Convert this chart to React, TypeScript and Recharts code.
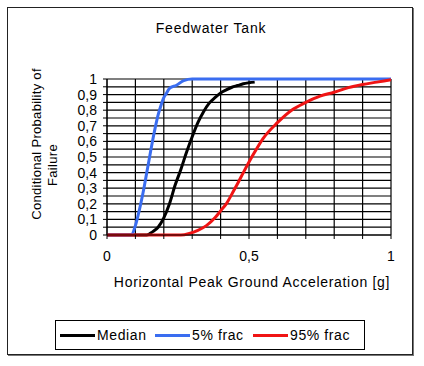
import React from 'react';
import { LineChart, Line, XAxis, YAxis, CartesianGrid } from 'recharts';

// fragility curves (acceleration in g, probability 0..1)
const medianAccel = [0, 0.14, 0.16, 0.18, 0.2, 0.22, 0.24, 0.26, 0.28, 0.3, 0.32, 0.34, 0.36, 0.38, 0.4, 0.42, 0.44, 0.46, 0.48, 0.5, 0.52];
const medianProb = [0, 0, 0.02, 0.05, 0.11, 0.2, 0.32, 0.42, 0.53, 0.63, 0.72, 0.79, 0.845, 0.88, 0.91, 0.93, 0.947, 0.958, 0.97, 0.976, 0.98];

const frac5Accel = [0, 0.085, 0.1, 0.11, 0.12, 0.13, 0.14, 0.15, 0.16, 0.17, 0.18, 0.19, 0.2, 0.21, 0.22, 0.245, 0.27, 0.3, 1];
const frac5Prob = [0, 0, 0.06, 0.13, 0.21, 0.3, 0.4, 0.5, 0.6, 0.69, 0.77, 0.83, 0.88, 0.91, 0.94, 0.96, 0.99, 1, 1];

const frac95Accel = [0, 0.26, 0.29, 0.32, 0.35, 0.38, 0.4, 0.42, 0.445, 0.46, 0.48, 0.51, 0.55, 0.6, 0.65, 0.7, 0.75, 0.8, 0.85, 0.9, 0.95, 1];
const frac95Prob = [0, 0, 0.01, 0.03, 0.06, 0.11, 0.155, 0.2, 0.28, 0.33, 0.4, 0.5, 0.62, 0.72, 0.8, 0.85, 0.89, 0.915, 0.945, 0.965, 0.98, 0.995];

const xTicks = [0, 0.1, 0.2, 0.3, 0.4, 0.5, 0.6, 0.7, 0.8, 0.9, 1];
const xLabelled = [0, 0.5, 1];
const yTicks = [0, 0.05, 0.1, 0.15, 0.2, 0.25, 0.3, 0.35, 0.4, 0.45, 0.5, 0.55, 0.6, 0.65, 0.7, 0.75, 0.8, 0.85, 0.9, 0.95, 1];
const yLabelled = [0, 0.1, 0.2, 0.3, 0.4, 0.5, 0.6, 0.7, 0.8, 0.9, 1];

const seriesNames = ['Median', '5% frac', '95% frac'];
const seriesColors = ['#000000', '#3a6df0', '#f01414'];

const toPoints = (xs: number[], ps: number[]) => xs.map((x, i) => ({ x, p: ps[i] }));

const FONT = 'Arial, "Liberation Sans", sans-serif';
const comma = (v: number) => String(v).replace('.', ',');

// legend entry x positions (swatch start), as in the reference
const legendLeft = [60, 155, 253];

export default function App() {
  const series = [
    toPoints(medianAccel, medianProb),
    toPoints(frac5Accel, frac5Prob),
    toPoints(frac95Accel, frac95Prob),
  ];

  return (
    <div style={{ position: 'absolute', left: 0, top: 0, width: 424, height: 366, background: '#fff', fontFamily: FONT, color: '#000' }}>
      {/* chart frame */}
      <div style={{ position: 'absolute', left: 7, top: 7, width: 406, height: 348, boxSizing: 'border-box', border: '1px solid #222', boxShadow: '1px 1px 0 #777' }} />

      <div style={{ position: 'absolute', left: 211, top: 28, transform: 'translate(-50%, -50%)', whiteSpace: 'nowrap', fontSize: 14, letterSpacing: 0.8 }}>
        Feedwater Tank
      </div>

      <div style={{ position: 'absolute', left: 0, top: 0 }}>
        <LineChart width={424} height={366} margin={{ top: 79, right: 33, bottom: 101, left: 0 }}>
          <CartesianGrid stroke="#000" strokeWidth={1.2} />
          <XAxis
            type="number"
            dataKey="x"
            domain={[0, 1]}
            ticks={xTicks}
            interval={0}
            height={30}
            tickSize={4}
            tickMargin={12}
            tickFormatter={(v: number) => (xLabelled.includes(v) ? comma(v) : '')}
            tick={{ fontSize: 14, fill: '#000', fontFamily: FONT }}
            axisLine={{ stroke: '#000' }}
            tickLine={{ stroke: '#000' }}
            allowDuplicatedCategory={false}
          />
          <YAxis
            type="number"
            domain={[0, 1]}
            ticks={yTicks}
            interval={0}
            width={107}
            tickSize={4}
            tickMargin={6}
            tickFormatter={(v: number) => (yLabelled.includes(v) ? comma(v) : '')}
            tick={{ fontSize: 14, fill: '#000', fontFamily: FONT }}
            axisLine={{ stroke: '#000' }}
            tickLine={{ stroke: '#000' }}
          />
          {series.map((pts, i) => (
            <Line
              key={seriesNames[i]}
              data={pts}
              dataKey="p"
              name={seriesNames[i]}
              type="monotone"
              stroke={seriesColors[i]}
              strokeWidth={3}
              dot={false}
              isAnimationActive={false}
            />
          ))}
        </LineChart>
      </div>

      {/* y axis title, two lines rotated */}
      <div style={{ position: 'absolute', left: 36, top: 144, width: 0, height: 0 }}>
        <div style={{ position: 'absolute', transform: 'translate(-50%, -50%) rotate(-90deg)', whiteSpace: 'nowrap', fontSize: 13, letterSpacing: 0.3 }}>
          Conditional Probability of
        </div>
      </div>
      <div style={{ position: 'absolute', left: 52, top: 165, width: 0, height: 0 }}>
        <div style={{ position: 'absolute', transform: 'translate(-50%, -50%) rotate(-90deg)', whiteSpace: 'nowrap', fontSize: 13, letterSpacing: 0.3 }}>
          Failure
        </div>
      </div>

      <div style={{ position: 'absolute', left: 252, top: 282, transform: 'translate(-50%, -50%)', whiteSpace: 'nowrap', fontSize: 14, letterSpacing: 0.7 }}>
        Horizontal Peak Ground Acceleration [g]
      </div>

      {/* legend */}
      <div style={{ position: 'absolute', left: 55, top: 320, width: 310, height: 30, boxSizing: 'border-box', border: '1px solid #000' }} />
      {seriesNames.map((name, i) => (
        <div key={name} style={{ position: 'absolute', left: legendLeft[i], top: 335, transform: 'translateY(-50%)', display: 'flex', alignItems: 'center', whiteSpace: 'nowrap', fontSize: 14, letterSpacing: 0.6 }}>
          <span style={{ display: 'inline-block', width: 35, height: 3, background: seriesColors[i], marginRight: 2 }} />
          <span>{name}</span>
        </div>
      ))}
    </div>
  );
}
